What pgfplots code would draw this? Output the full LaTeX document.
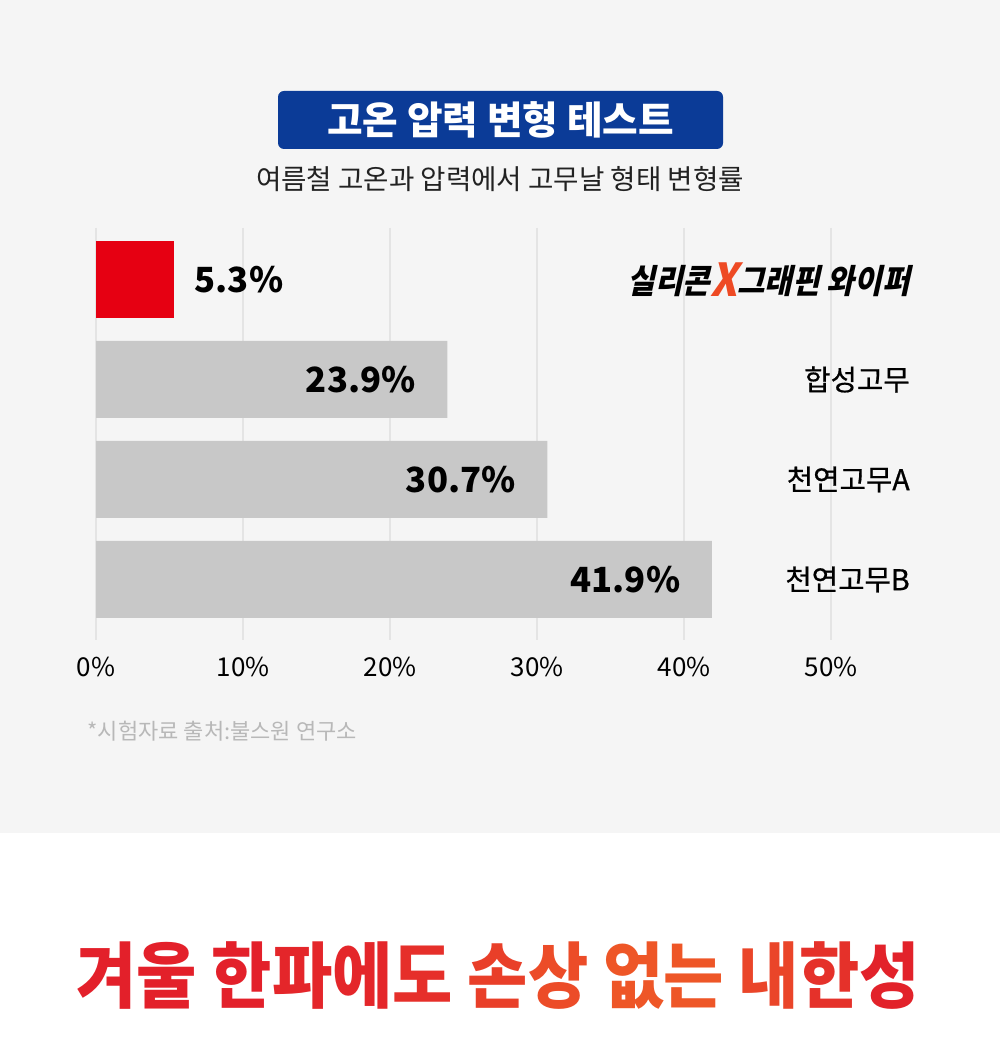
\documentclass[border=0pt]{standalone}
\usepackage{fontspec}
\usepackage{pgfplots}
\pgfplotsset{compat=1.18}
\setmainfont{Noto Sans CJK KR}
\newfontfamily\logofont{Noto Sans CJK KR}[FakeSlant=0.22,FakeStretch=0.9]
\newfontfamily\headfont{Noto Sans CJK KR}[FakeStretch=0.91]
\newfontfamily\medfont{Noto Sans CJK KR}[FakeBold=0.6]

\definecolor{bg}{HTML}{F5F5F5}
\definecolor{titleblue}{HTML}{0B3B97}
\definecolor{subgray}{HTML}{222222}
\definecolor{gridc}{HTML}{E4E4E4}
\definecolor{redbar}{HTML}{E60012}
\definecolor{graybar}{HTML}{C8C8C8}
\definecolor{footc}{HTML}{B8B8B8}
\definecolor{xorange}{HTML}{EE4A24}
\definecolor{hA}{HTML}{E3202A}
\definecolor{hB}{HTML}{E4262A}
\definecolor{hC}{HTML}{E62F2A}
\definecolor{hD}{HTML}{E93F29}
\definecolor{hE}{HTML}{EC4C28}
\definecolor{hF}{HTML}{EE5627}
\definecolor{hG}{HTML}{EA4529}
\definecolor{hH}{HTML}{E5312A}
\definecolor{hI}{HTML}{E2222A}

\newlength\px
\setlength\px{0.75pt}

% product name: slanted heavy type with an orange X in the middle
\newcommand\logo{{\logofont\bfseries\fontsize{25pt}{27pt}\selectfont 실리콘\raisebox{-3\px}{\fontsize{34pt}{34pt}\selectfont\textcolor{xorange}{X}}그래핀 와이퍼}}

\begin{document}
\begin{tikzpicture}[x=0.75pt,y=0.75pt]
% page background: grey card on top, white strip below
\fill[white] (0,0) rectangle (1000,1038);
\fill[bg] (0,205) rectangle (1000,1038);

% title
\fill[titleblue, rounded corners=6\px] (278,889) rectangle (723,947);
\node[text=white, font=\fontsize{29pt}{32pt}\selectfont\bfseries] at (500.5,918) {고온 압력 변형 테스트};
\node[text=subgray, font=\fontsize{20.7pt}{24pt}\selectfont] at (500,859) {여름철 고온과 압력에서 고무날 형태 변형률};

\begin{axis}[
 at={(96\px,398\px)}, anchor=south west,
 scale only axis, width=735\px, height=412\px,
 xbar, bar width=77\px, bar shift=0pt,
 xmin=0, xmax=50, ymin=-0.515, ymax=3.605, y dir=reverse,
 clip=false,
 axis line style={draw=none},
 major tick length=0pt,
 xmajorgrids, grid style={gridc, line width=1.5\px},
 xtick={0,10,20,30,40,50},
 xticklabels={0\%,10\%,20\%,30\%,40\%,50\%},
 xticklabel style={font=\fontsize{19.5pt}{24pt}\selectfont, text=black, anchor=base, inner sep=0pt, yshift=-37\px},
 ytick={0,1,2,3},
 yticklabel pos=right,
 yticklabels={{\logo},합성고무,천연고무A,천연고무B},
 yticklabel style={font=\medfont\fontsize{21.5pt}{24pt}\selectfont, text=black, anchor=east, inner sep=0pt, xshift=79\px},
 point meta=x,
 nodes near coords={\pgfmathprintnumber[fixed,fixed zerofill,precision=1,assume math mode=true]{\pgfplotspointmeta}\%},
]
\addplot[fill=redbar, draw=none,
 nodes near coords style={anchor=west, xshift=16\px, font=\fontsize{26pt}{30pt}\selectfont\bfseries, text=black}]
 coordinates {(5.3,0)};
\addplot[fill=graybar, draw=none,
 nodes near coords style={anchor=east, xshift=-27\px, font=\fontsize{26pt}{30pt}\selectfont\bfseries, text=black}]
 coordinates {(23.9,1) (30.7,2) (41.9,3)};
\end{axis}

% source note
\node[anchor=west, text=footc, font=\fontsize{16.5pt}{19pt}\selectfont] at (83,307) {*시험자료 출처:불스원 연구소};

% headline
\node[font=\headfont\bfseries\fontsize{54pt}{60pt}\selectfont] at (498,62)
 {\textcolor{hA}{겨}\textcolor{hA}{울} \textcolor{hA}{한}\textcolor{hB}{파}\textcolor{hB}{에}\textcolor{hC}{도} \textcolor{hD}{손}\textcolor{hE}{상} \textcolor{hF}{없}\textcolor{hF}{는} \textcolor{hG}{내}\textcolor{hH}{한}\textcolor{hI}{성}};
\end{tikzpicture}
\end{document}
